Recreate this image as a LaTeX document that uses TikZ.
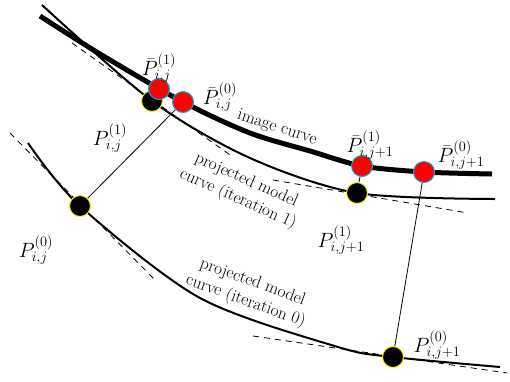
\documentclass[tikz,border=0pt]{standalone}
\tikzset{
  imgpt/.style={circle, fill=red, draw=cyan, line width=1bp, minimum size=21bp, inner sep=0pt},
  mdlpt/.style={circle, fill=black, draw=yellow, line width=1bp, minimum size=21bp, inner sep=0pt},
  tangent/.style={dash pattern=on 6bp off 5bp, line width=0.8bp},
  lbl/.style={font=\fontsize{17.28}{20.5}\selectfont, align=center, inner sep=0pt},
  mlbl/.style={font=\fontsize{20.74}{24}\selectfont, inner sep=0pt}
}
\begin{document}
\begin{tikzpicture}[x=1bp,y=-1bp]
		\useasboundingbox (0,0) rectangle (510,381);
		% Tangents
		\draw[tangent] (10,133) -- (155,280);
		\draw[tangent] (72,43) -- (233,157);
		\draw[tangent] (273,180) -- (468,213);
		\draw[tangent] (253,336) -- (507,373);
		
		% Curves
		\draw[line width=2bp] plot[smooth] coordinates {(28,143) (80,206) (200,298) (338,347) (393,357) (500,367)};
		\draw[line width=2bp] plot[smooth] coordinates {(42,5) (152,101) (250,158) (357,193) (495,199)};
		\draw[line width=5bp] plot[smooth] coordinates {(40,16) (100,54) (183,102) (250,133) (310,151) (362,166) (424,172) (492,174)};
		
		% Points
		\node[mdlpt] (p0a) at (80,206) {};
		\node[mdlpt] (p1a) at (152,101) {};
		\node[mdlpt] (p1b) at (357,193) {};
		\node[mdlpt] (p0b) at (393,357) {};
		\node[imgpt] (q0a) at (183,102) {};
		\node[imgpt] (q1a) at (159,89) {};
		\node[imgpt] (q1b) at (362,166) {};
		\node[imgpt] (q0b) at (424,172) {};
		
		% Projections
		\draw[line width=0.8bp] (p0a) -- (q0a);
		\draw[line width=0.8bp] (p1b) -- (q1b);
		\draw[line width=0.8bp] (p0b) -- (q0b);
		
		% Labels
		\node[mlbl] (lq1a) at (159,68) {$\bar{P}^{(1)}_{i,j}$};
		\node[mlbl] (lq0a) at (220,97) {$\bar{P}^{(0)}_{i,j}$};
		\node[mlbl] (lq1b) at (370,145) {$\bar{P}^{(1)}_{i,j+1}$};
		\node[mlbl] (lq0b) at (461,155) {$\bar{P}^{(0)}_{i,j+1}$};
		\node[mlbl] (lp1a) at (110,138) {$P^{(1)}_{i,j}$};
		\node[mlbl] (lp0a) at (36,250) {$P^{(0)}_{i,j}$};
		\node[mlbl] (lp1b) at (341,240) {$P^{(1)}_{i,j+1}$};
		\node[mlbl] (lp0b) at (437,345) {$P^{(0)}_{i,j+1}$};
		\node[lbl, rotate=-18] (limg) at (277,128) {image curve};
		\node[lbl, rotate=-24] (lit1) at (242,190) {projected model\\curve (iteration 1)};
		\node[lbl, rotate=-20] (lit0) at (249,292) {projected model\\curve (iteration 0)};
	\end{tikzpicture}
\end{document}
